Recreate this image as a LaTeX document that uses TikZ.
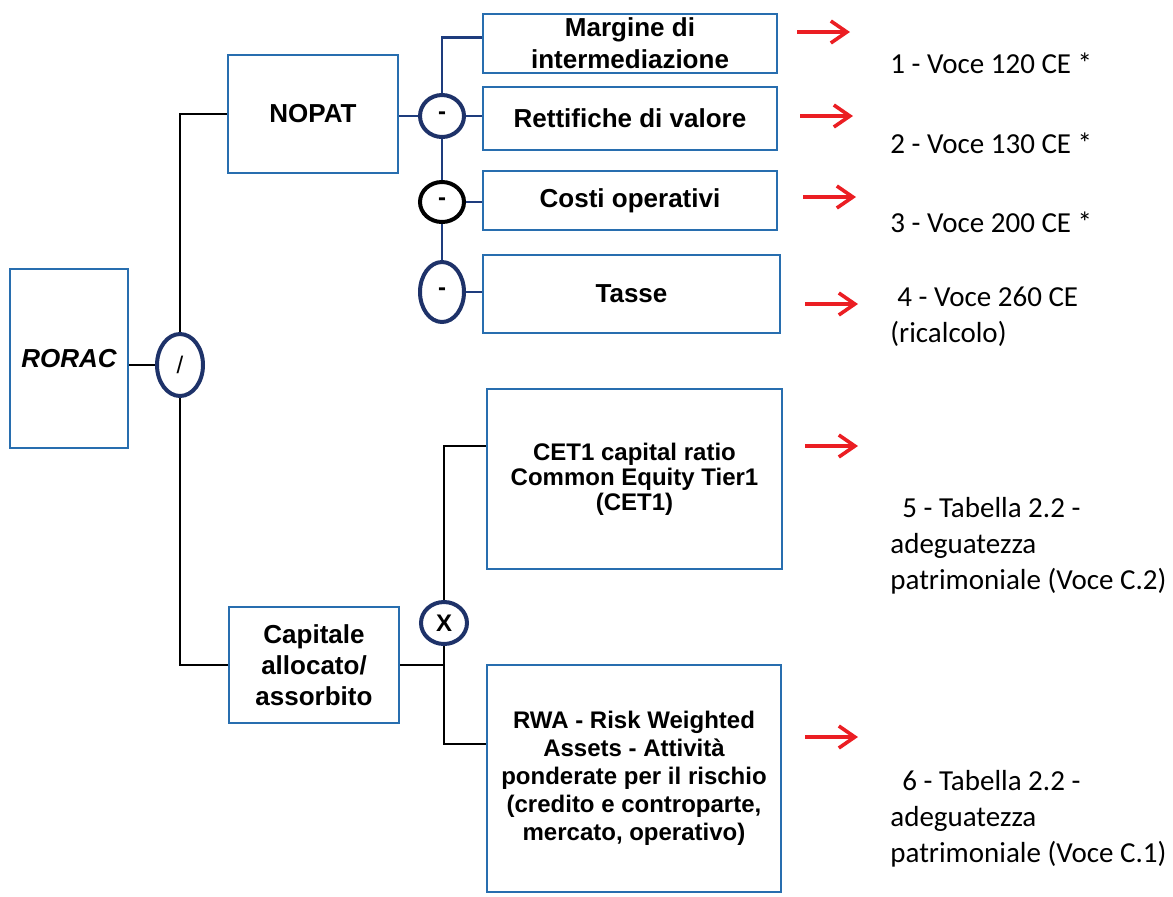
\documentclass[tikz,border=0pt]{standalone}
\usepackage{fontspec}
\setmainfont{Liberation Sans}
\newfontfamily\notefont{Carlito}
\usetikzlibrary{shapes.geometric, arrows.meta, calc}
\definecolor{boxblue}{RGB}{40,110,175}
\definecolor{opnavy}{RGB}{30,50,105}
\definecolor{linkblue}{RGB}{30,60,125}
\definecolor{arrowred}{RGB}{235,30,35}
\tikzset{
    box/.style={rectangle, draw=boxblue, line width=1pt, align=center, inner sep=2pt, font=\bfseries\fontsize{13}{16}\selectfont},
    opnode/.style={ellipse, draw=opnavy, line width=2pt, inner sep=0pt, font=\bfseries\fontsize{12}{12}\selectfont},
    link/.style={black, line width=1pt},
    treelink/.style={linkblue, line width=1.2pt},
    redarrow/.style={-{Straight Barb[length=8pt, width=11pt]}, arrowred, line width=1.8pt},
    note/.style={anchor=west, align=left, inner sep=0pt, font=\notefont\fontsize{14.5}{18}\selectfont},
}

\begin{document}
\begin{tikzpicture}[x=0.5pt, y=-0.5pt]
    \useasboundingbox (0,0) rectangle (1173,896);
    % left part
    \node[box, minimum width=59pt, minimum height=89.5pt, font=\bfseries\itshape\fontsize{13}{16}\selectfont] (rorac) at (69,358.5) {RORAC};
    \node[opnode, minimum width=23pt, minimum height=31pt, font=\fontsize{12}{12}\selectfont] (div) at (180,365) {/};
    \node[box, minimum width=85pt, minimum height=59pt] (nopat) at (313,114) {NOPAT};
    \node[box, minimum width=85pt, minimum height=58pt, font=\bfseries\fontsize{13}{15.5}\selectfont] (cap) at (314,665) {Capitale\\allocato/\\assorbito};
    % operators
    \node[opnode, minimum width=22pt, minimum height=21pt] (m1) at (442,116) {-};
    \node[opnode, draw=black, minimum width=22pt, minimum height=20pt] (m2) at (442,202) {-};
    \node[opnode, minimum width=22pt, minimum height=30pt] (m3) at (442,292) {-};
    \node[opnode, minimum width=23pt, minimum height=21pt] (xop) at (444,623) {X};
    % NOPAT items
    \node[box, minimum width=147pt, minimum height=29.5pt] (marg) at (630,43.5) {Margine di\\intermediazione};
    \node[box, minimum width=147pt, minimum height=31.5pt] (rett) at (630,118.5) {Rettifiche di valore};
    \node[box, minimum width=147pt, minimum height=29.5pt] (costi) at (630,200.5) {Costi operativi};
    \node[box, minimum width=148.5pt, minimum height=39pt] (tasse) at (631.5,294) {Tasse};
    % capital items
    \node[box, minimum width=147.5pt, minimum height=90pt, font=\bfseries\fontsize{12}{12.5}\selectfont] (cet) at (634.5,479) {CET1 capital ratio\\Common Equity Tier1\\(CET1)};
    \node[box, minimum width=147pt, minimum height=113.5pt, font=\bfseries\fontsize{12}{14}\selectfont] (rwa) at (634,778.5) {RWA - Risk Weighted\\Assets - Attività\\ponderate per il rischio\\(credito e controparte,\\mercato, operativo)};
    % connectors
    \draw[link] (rorac.east |- div.west) -- (div.west);
    \draw[link] (div.north) |- (nopat.west);
    \draw[link] (div.south) |- (cap.west);
    \draw[treelink] (nopat.east |- m1.west) -- (m1.west);
    \draw[treelink] (m1.north) |- ($(marg.north west)!0.4!(marg.south west)$);
    \draw[treelink] (m1.east) -- (m1.east -| rett.west);
    \draw[treelink] (m1.south) -- (m2.north);
    \draw[treelink] (m2.east) -- (m2.east -| costi.west);
    \draw[treelink] (m2.south) -- (m3.north);
    \draw[treelink] (m3.east) -- (m3.east -| tasse.west);
    \draw[link] (cap.east) -- (cap.east -| xop.south);
    \draw[link] (xop.north) |- ($(cet.north west)!0.32!(cet.south west)$);
    \draw[link] (xop.south) |- ($(rwa.north west)!0.35!(rwa.south west)$);
    % red arrows
    \foreach \i/\ax/\ay in {1/797/32, 2/800/116, 3/803/197, 4/805/304, 5/805/446, 6/805/737}
        \coordinate (r\i) at (\ax,\ay);
    \foreach \i in {1,...,6}
        \draw[redarrow] (r\i) -- ++(53,0);
    % sources
    \node[note] (v1) at (890,63) {1 - Voce 120 CE *};
    \node[note] (v2) at (890,143) {2 - Voce 130 CE *};
    \node[note] (v3) at (890,222) {3 - Voce 200 CE *};
    \node[note] (v4) at (890,317) {\hspace*{3.5pt}4 - Voce 260 CE\\(ricalcolo)};
    \node[note] (v5) at (890,546) {\hspace*{6pt}5 - Tabella 2.2 -\\adeguatezza\\patrimoniale (Voce C.2)};
    \node[note] (v6) at (890,819) {\hspace*{6pt}6 - Tabella 2.2 -\\adeguatezza\\patrimoniale (Voce C.1)};
\end{tikzpicture}
\end{document}
